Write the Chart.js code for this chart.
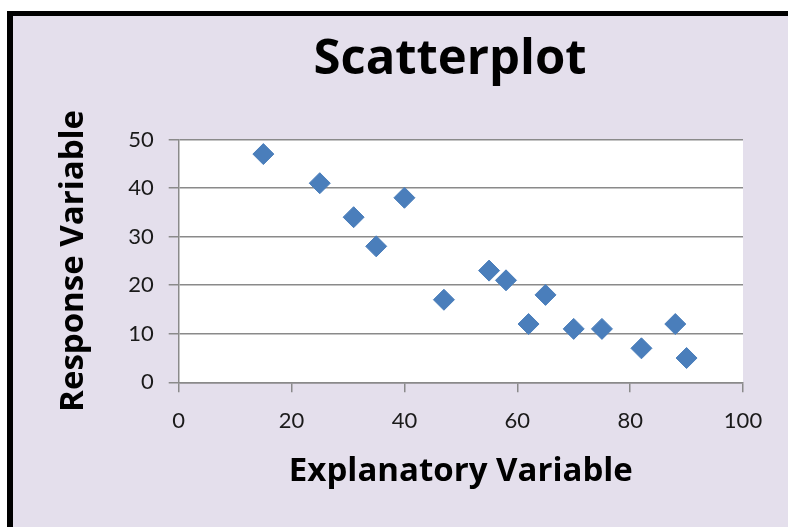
<!DOCTYPE html>
<html>
<head>
<meta charset="utf-8">
<title>Scatterplot</title>
<script src="https://cdn.jsdelivr.net/npm/chart.js@4/dist/chart.umd.min.js"></script>
<style>
  html, body { margin: 0; padding: 0; background: #fff; overflow: hidden; }
  .frame {
    position: absolute; left: 7px; top: 11px;
    width: 781px; height: 516px;
    border-left: 6px solid #000; border-top: 5px solid #000;
    background: #e4dfec; overflow: hidden;
  }
  .chart-box { position: absolute; left: 0; top: 0; width: 775px; height: 511px; }
</style>
</head>
<body>
<div class="frame">
  <div class="chart-box"><canvas id="scatter"></canvas></div>
</div>
<script>
// explanatory (x) and response (y) values
const xValues = [15, 25, 31, 35, 40, 47, 55, 58, 62, 65, 70, 75, 82, 88, 90];
const yValues = [47, 41, 34, 28, 38, 17, 23, 21, 12, 18, 11, 11, 7, 12, 5];
const xTicks = [0, 20, 40, 60, 80, 100];
const yTicks = [0, 10, 20, 30, 40, 50];

const points = xValues.map((x, i) => ({ x: x, y: yValues[i] }));

const TICK_FONT = "Lato, 'Open Sans', sans-serif";
const TITLE_FONT = "'Open Sans', Lato, sans-serif";
const GRID = "#8a8a8a";

// white plot area on the lavender background
const plotBackground = {
  id: "plotBackground",
  beforeDraw(chart) {
    const { ctx, chartArea: a } = chart;
    ctx.save();
    ctx.fillStyle = "#ffffff";
    ctx.fillRect(a.left, a.top, a.right - a.left, a.bottom - a.top);
    ctx.restore();
  }
};

// big chart heading, centred over the whole frame rather than the plot
const heading = {
  id: "heading",
  afterDraw(chart, args, opts) {
    const ctx = chart.ctx;
    ctx.save();
    ctx.font = "bold " + opts.size + "px " + TITLE_FONT;
    ctx.fillStyle = "#000";
    ctx.textAlign = "center";
    ctx.textBaseline = "alphabetic";
    ctx.fillText(opts.text, opts.x, opts.y);
    ctx.restore();
  }
};

new Chart(document.getElementById("scatter"), {
  type: "scatter",
  data: {
    datasets: [{
      label: "Response",
      data: points,
      pointStyle: "rectRot",
      pointRadius: 10.5,
      backgroundColor: "#4a7ebb",
      borderColor: "#4a7ebb",
      borderWidth: 1
    }]
  },
  plugins: [plotBackground, heading],
  options: {
    responsive: true,
    maintainAspectRatio: false,
    animation: false,
    events: [],
    layout: { padding: { top: 123.5, left: 0, right: 45, bottom: 0 } },
    plugins: {
      legend: { display: false },
      tooltip: { enabled: false },
      title: { display: false },
      heading: { text: "Scatterplot", size: 49, x: 437, y: 57.5 }
    },
    scales: {
      x: {
        type: "linear",
        min: 0, max: 100,
        afterBuildTicks: s => { s.ticks = xTicks.map(v => ({ value: v })); },
        afterFit: s => { s.height = 144.7; },
        grid: { drawOnChartArea: false, drawTicks: true, tickLength: 10, color: GRID, lineWidth: 1.5 },
        border: { display: true, color: GRID, width: 1.5 },
        ticks: { color: "#1a1a1a", padding: 15, font: { family: TICK_FONT, size: 22 } },
        title: {
          display: true,
          text: "Explanatory Variable",
          color: "#000",
          font: { family: TITLE_FONT, size: 33, weight: "bold" },
          padding: { top: 0, bottom: 35.6 }
        }
      },
      y: {
        type: "linear",
        min: 0, max: 50,
        afterBuildTicks: s => { s.ticks = yTicks.map(v => ({ value: v })); },
        afterFit: s => { s.width = 165.7; },
        grid: { drawOnChartArea: true, drawTicks: true, tickLength: 10, color: GRID, lineWidth: 1.5 },
        border: { display: true, color: GRID, width: 1.5 },
        ticks: { color: "#1a1a1a", padding: 15, font: { family: TICK_FONT, size: 22 } },
        title: {
          display: true,
          text: "Response Variable",
          color: "#000",
          font: { family: TITLE_FONT, size: 33, weight: "bold" },
          padding: { top: 41, bottom: 0 }
        }
      }
    }
  }
});
</script>
</body>
</html>
